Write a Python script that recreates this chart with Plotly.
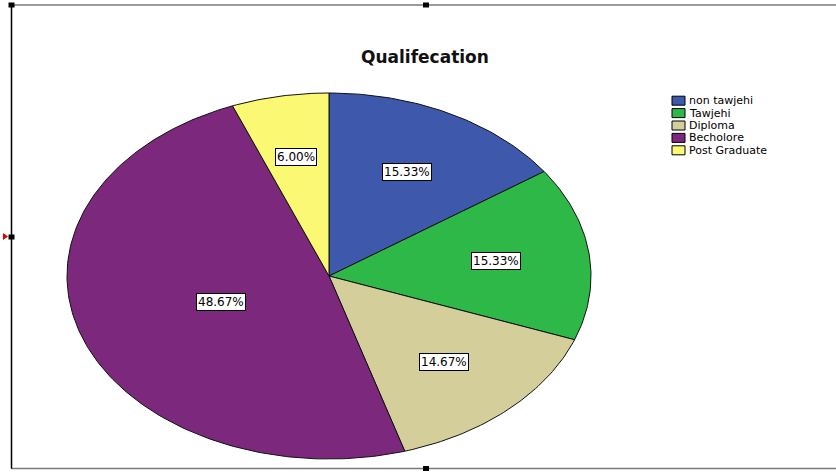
import numpy as np
import plotly.graph_objects as go

# Qualification breakdown (percent of respondents)
categories = ["non tawjehi", "Tawjehi", "Diploma", "Becholore", "Post Graduate"]
percents = [15.33, 15.33, 14.67, 48.67, 6.00]
colors = ["#3E58AC", "#2EB848", "#D4CE9A", "#7C287D", "#FBF873"]
chart_title = "Qualifecation"

W, H = 836, 473
# elliptical pie geometry (pixel-like data space)
CX, CY, RX, RY = 329, 276, 262, 183

fig = go.Figure()
annotations = []

total = sum(percents)
start = 0.0
for cat, pct, col in zip(categories, percents, colors):
    t0 = start / total * 2 * np.pi
    t1 = (start + pct) / total * 2 * np.pi
    start += pct
    t = np.linspace(t0, t1, max(8, int(400 * pct / total)))
    xs = np.concatenate([[CX], CX + RX * np.sin(t), [CX]])
    ys = np.concatenate([[CY], CY - RY * np.cos(t), [CY]])
    fig.add_trace(go.Scatter(
        x=xs, y=ys, fill="toself", fillcolor=col, mode="lines",
        line=dict(color="#111111", width=1), name=cat,
        hoverinfo="text", hoveron="fills", text=f"{cat}: {pct:.2f}%",
    ))
    # label at the sector centroid
    h = (t1 - t0) / 2
    k = 2 * np.sin(h) / (3 * h)
    tm = (t0 + t1) / 2
    annotations.append(dict(
        x=CX + RX * k * np.sin(tm), y=CY - RY * k * np.cos(tm),
        xref="x", yref="y", text=f"{pct:.2f}%", showarrow=False,
        bgcolor="white", bordercolor="black", borderwidth=1, borderpad=1,
        font=dict(family="DejaVu Sans", size=12, color="black"),
    ))

# title
annotations.append(dict(
    x=425, y=57, xref="x", yref="y", text=f"<b>{chart_title}</b>",
    showarrow=False, font=dict(family="DejaVu Sans", size=17, color="#111111"),
))

shapes = []
# legend built from the category list
LX, LY0, LDY = 672, 100.7, 12.4
for i, (cat, col) in enumerate(zip(categories, colors)):
    cy = LY0 + LDY * i
    shapes.append(dict(type="rect", xref="x", yref="y",
                       x0=LX, x1=LX + 13, y0=cy - 4.5, y1=cy + 4.5,
                       fillcolor=col, line=dict(color="black", width=1)))
    annotations.append(dict(
        x=LX + 15, y=cy, xref="x", yref="y", text=cat, showarrow=False,
        xanchor="left", yanchor="middle",
        font=dict(family="DejaVu Sans", size=11, color="black"),
    ))

# selection frame around the chart
shapes += [
    dict(type="line", xref="x", yref="y", x0=11, x1=W, y0=5, y1=5,
         line=dict(color="#7a7a7a", width=1.5)),
    dict(type="line", xref="x", yref="y", x0=11, x1=W, y0=468.5, y1=468.5,
         line=dict(color="#7a7a7a", width=1.5)),
    dict(type="line", xref="x", yref="y", x0=11.5, x1=11.5, y0=5, y1=468.5,
         line=dict(color="black", width=1.5)),
]
for hx, hy in [(11.5, 5), (426, 5), (11.5, 237), (426, 468.5)]:
    shapes.append(dict(type="rect", xref="x", yref="y",
                       x0=hx - 3, x1=hx + 3, y0=hy - 2.5, y1=hy + 2.5,
                       fillcolor="black", line=dict(width=0)))
shapes.append(dict(type="path", xref="x", yref="y",
                   path="M 3 233 L 8 236.5 L 3 240 Z",
                   fillcolor="#e00000", line=dict(width=0)))

fig.update_layout(
    width=W, height=H, margin=dict(l=0, r=0, t=0, b=0),
    paper_bgcolor="white", plot_bgcolor="white", showlegend=False,
    xaxis=dict(range=[0, W], visible=False, fixedrange=True),
    yaxis=dict(range=[H, 0], visible=False, fixedrange=True),
    annotations=annotations, shapes=shapes,
)

fig.write_html("out.html")
